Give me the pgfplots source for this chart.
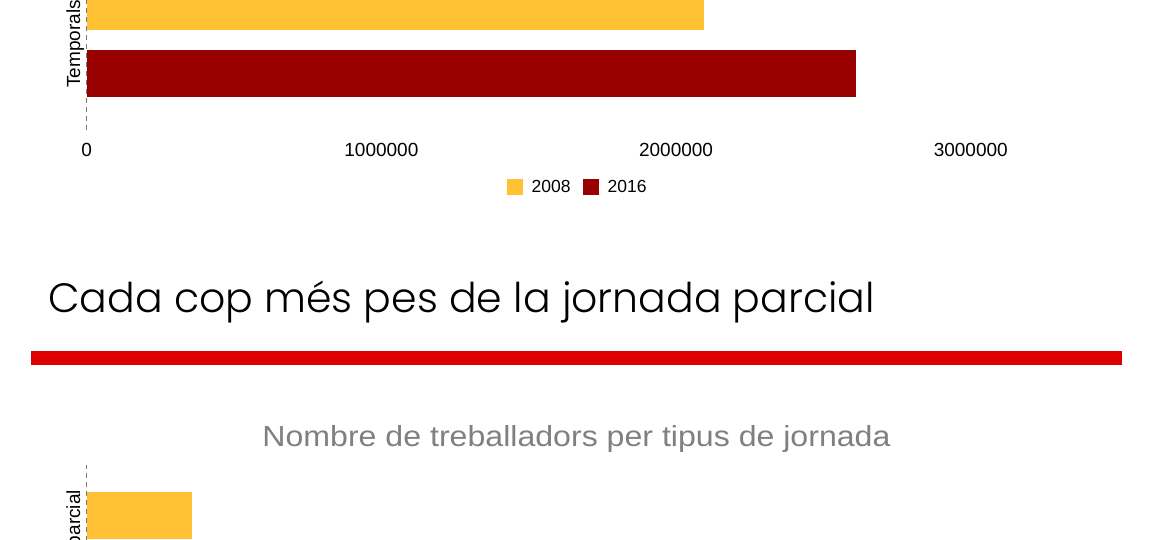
\documentclass[border=0pt]{standalone}
\usepackage{pgfplots}
\pgfplotsset{compat=1.18}
\usepackage{fontspec}
\setmainfont{Liberation Sans}
\newfontfamily\titlefont{Poppins Light}
\definecolor{cyellow}{RGB}{255,193,51}
\definecolor{cred}{RGB}{153,0,0}
\definecolor{crule}{RGB}{221,0,0}
\definecolor{cgray}{RGB}{128,128,128}
\definecolor{caxis}{RGB}{120,120,120}
\pgfplotsset{
 sqlegend/.style={legend image code/.code={\fill[##1] (0pt,-8pt) rectangle (16pt,8pt);}},
 mybar/.style={
  xbar, scale only axis, width=1031.45pt, xmin=0, xmax=3500000,
  axis x line*=bottom, axis y line*=left,
  x axis line style={draw=none},
  y axis line style={draw=caxis, line width=1.4pt, dash pattern=on 5pt off 4pt},
  major tick length=0pt,
  bar width=47pt,
  ytick={0},
  xtick={0,1000000,2000000,3000000},
  xticklabels={0,1000000,2000000,3000000},
  scaled x ticks=false,
  tick label style={font=\fontsize{19}{19}\selectfont},
  /pgf/number format/assume math mode=true,
  xticklabel style={anchor=center, yshift=-20pt},
  yticklabel style={rotate=90, anchor=center, yshift=11.5pt},
 }
}
\begin{document}
\begin{tikzpicture}[x=1pt,y=1pt]
\useasboundingbox (0,0) rectangle (1170,540);
\fill[white] (0,0) rectangle (1170,540);
\clip (0,0) rectangle (1170,540);

\begin{axis}[mybar, at={(86.7pt,410pt)}, anchor=south west, height=240pt,
  ymin=-90, ymax=150, yticklabels={Temporals},
  yticklabel style={xshift=-4pt},
  legend columns=2,
  legend style={at={(0.476,-0.2375)}, anchor=center, draw=none, fill=none,
    font=\fontsize{17.5}{17.5}\selectfont,
    /tikz/every odd column/.append style={column sep=7pt},
    /tikz/every even column/.append style={column sep=10pt}}]
\addplot[fill=cyellow, draw=none, bar shift=33.5pt, sqlegend]
  coordinates {(2096000,0)};
\addplot[fill=cred, draw=none, bar shift=-33.5pt, sqlegend]
  coordinates {(2609000,0)};
\legend{2008,2016}
\end{axis}

\node[anchor=base west, inner sep=0pt, font=\titlefont\fontsize{41}{41}\selectfont]
  at (48,227) {Cada cop més pes de la jornada parcial};
\fill[crule] (31,175) rectangle (1122,189);
\node[anchor=base, inner sep=0pt, text=cgray, font=\fontsize{29}{29}\selectfont]
  at (576.5,93.3) {\scalebox{1.107}[1]{Nombre de treballadors per tipus de jornada}};

\begin{axis}[mybar, at={(86.7pt,75pt)}, anchor=north west, height=183.7pt,
  ymin=-100, ymax=83.7, yticklabels={Temps parcial}, xtick=\empty]
\addplot[fill=cyellow, draw=none, bar shift=33.5pt] coordinates {(356000,0)};
\end{axis}
\end{tikzpicture}
\end{document}
